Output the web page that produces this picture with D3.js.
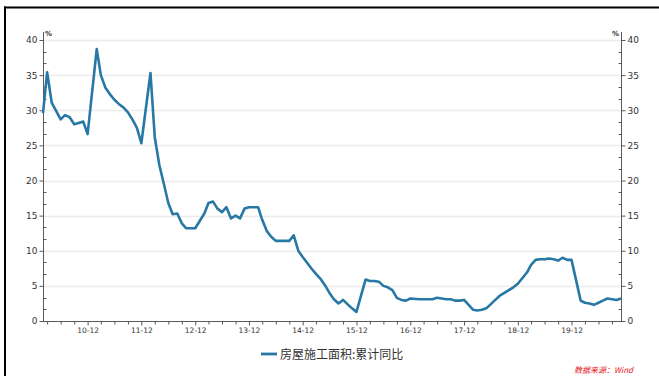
<!DOCTYPE html>
<html>
<head>
<meta charset="utf-8">
<script src="https://cdn.jsdelivr.net/npm/d3@7"></script>
<style>
  html, body { margin: 0; padding: 0; background: #fff; }
  svg { display: block; }
</style>
</head>
<body>
<svg id="chart" width="659" height="376"></svg>
<script>
// 房屋施工面积:累计同比 (%), monthly, Jan figures are reported together with Feb
const months = [
  "2010-02","2010-03","2010-04","2010-05","2010-06","2010-07","2010-08","2010-09","2010-10","2010-11","2010-12",
  "2011-02","2011-03","2011-04","2011-05","2011-06","2011-07","2011-08","2011-09","2011-10","2011-11","2011-12",
  "2012-02","2012-03","2012-04","2012-05","2012-06","2012-07","2012-08","2012-09","2012-10","2012-11","2012-12",
  "2013-02","2013-03","2013-04","2013-05","2013-06","2013-07","2013-08","2013-09","2013-10","2013-11","2013-12",
  "2014-02","2014-03","2014-04","2014-05","2014-06","2014-07","2014-08","2014-09","2014-10","2014-11","2014-12",
  "2015-02","2015-03","2015-04","2015-05","2015-06","2015-07","2015-08","2015-09","2015-10","2015-11","2015-12",
  "2016-02","2016-03","2016-04","2016-05","2016-06","2016-07","2016-08","2016-09","2016-10","2016-11","2016-12",
  "2017-02","2017-03","2017-04","2017-05","2017-06","2017-07","2017-08","2017-09","2017-10","2017-11","2017-12",
  "2018-02","2018-03","2018-04","2018-05","2018-06","2018-07","2018-08","2018-09","2018-10","2018-11","2018-12",
  "2019-02","2019-03","2019-04","2019-05","2019-06","2019-07","2019-08","2019-09","2019-10","2019-11","2019-12",
  "2020-02","2020-03","2020-04","2020-05","2020-06","2020-07","2020-08","2020-09","2020-10","2020-11"
];
const growth = [
  29.6, 35.4, 31.1, 29.9, 28.7, 29.3, 29.0, 28.0, 28.2, 28.4, 26.6,
  38.7, 35.0, 33.2, 32.3, 31.5, 30.9, 30.4, 29.7, 28.7, 27.5, 25.3,
  35.3, 26.2, 22.2, 19.6, 16.8, 15.2, 15.3, 13.9, 13.2, 13.2, 13.2,
  15.3, 16.8, 17.0, 16.0, 15.5, 16.2, 14.6, 15.0, 14.6, 16.0, 16.2,
  16.2, 14.4, 12.8, 12.0, 11.4, 11.4, 11.4, 11.4, 12.2, 10.0, 9.1,
  7.4, 6.7, 6.0, 5.1, 4.0, 3.1, 2.5, 3.0, 2.4, 1.8, 1.3,
  5.9, 5.7, 5.7, 5.6, 5.0, 4.8, 4.4, 3.3, 3.0, 2.9, 3.2,
  3.1, 3.1, 3.1, 3.1, 3.3, 3.2, 3.1, 3.1, 2.9, 2.9, 3.0,
  1.6, 1.5, 1.6, 1.8, 2.4, 3.0, 3.6, 4.0, 4.4, 4.8, 5.3,
  6.9, 8.0, 8.7, 8.8, 8.8, 8.9, 8.8, 8.6, 9.0, 8.7, 8.7,
  2.9, 2.6, 2.5, 2.3, 2.6, 2.9, 3.2, 3.1, 3.0, 3.2
];
const yTicks = [0, 5, 10, 15, 20, 25, 30, 35, 40];
const xTickLabels = ["10-12","11-12","12-12","13-12","14-12","15-12","16-12","17-12","18-12","19-12"];
const seriesName = "房屋施工面积:累计同比";
const sourceNote = "数据来源：Wind";
const unitLabel = "%";

const parseMonth = d3.timeParse("%Y-%m");
const data = months.map((m, i) => ({ date: parseMonth(m), value: growth[i] }));

const svg = d3.select("#chart");
const plot = { left: 43, right: 621, top: 40, bottom: 321 };
const lineColor = "#2878a6";
const axisColor = "#5a5a5a";
const numFont = "'DejaVu Sans', sans-serif";

const x = d3.scaleTime()
  .domain(d3.extent(data, d => d.date))
  .range([plot.left, plot.right]);
const y = d3.scaleLinear()
  .domain([0, 40])
  .range([plot.bottom, plot.top]);

// frame lines along the top and left edges
svg.append("line").attr("x1", 4).attr("x2", 659).attr("y1", 7.5).attr("y2", 7.5)
  .attr("stroke", "#000").attr("stroke-width", 2);
svg.append("line").attr("x1", 5).attr("x2", 5).attr("y1", 6.5).attr("y2", 376)
  .attr("stroke", "#000").attr("stroke-width", 2);

// horizontal grid
svg.append("g")
  .selectAll("line")
  .data(yTicks.filter(t => t > 0))
  .join("line")
  .attr("x1", plot.left).attr("x2", plot.right)
  .attr("y1", d => Math.round(y(d)) + 0.5).attr("y2", d => Math.round(y(d)) + 0.5)
  .attr("stroke", "#ececec").attr("stroke-width", 1.5);

// minor y ticks (thirds of each 5-point step), drawn inside the plot
const minorY = d3.range(0, 40.01, 5 / 3).filter(v => Math.abs(v / 5 - Math.round(v / 5)) > 1e-6);

function styleAxis(g) {
  g.select(".domain").attr("stroke", axisColor);
  g.selectAll(".tick line").attr("stroke", axisColor);
  g.selectAll(".tick text").attr("fill", "#333").attr("font-family", numFont);
}

const yLeft = svg.append("g")
  .attr("transform", `translate(${plot.left + 0.5},0)`)
  .call(d3.axisLeft(y).tickValues(yTicks).tickSize(4).tickSizeOuter(0).tickPadding(2))
  .call(styleAxis);
yLeft.selectAll(".tick text").attr("font-size", 9);
yLeft.select(".domain").attr("d", `M0,${plot.top - 8}V${plot.bottom + 0.5}`);
yLeft.append("g").selectAll("line").data(minorY).join("line")
  .attr("x1", 0).attr("x2", 3)
  .attr("y1", d => Math.round(y(d)) + 0.5).attr("y2", d => Math.round(y(d)) + 0.5)
  .attr("stroke", axisColor);

const yRight = svg.append("g")
  .attr("transform", `translate(${plot.right + 0.5},0)`)
  .call(d3.axisRight(y).tickValues(yTicks).tickSize(4).tickSizeOuter(0).tickPadding(2))
  .call(styleAxis);
yRight.selectAll(".tick text").attr("font-size", 9);
yRight.select(".domain").attr("d", `M0,${plot.top - 8}V${plot.bottom + 0.5}`);
yRight.append("g").selectAll("line").data(minorY).join("line")
  .attr("x1", -3).attr("x2", 0)
  .attr("y1", d => Math.round(y(d)) + 0.5).attr("y2", d => Math.round(y(d)) + 0.5)
  .attr("stroke", axisColor);

// unit marks above both axes
svg.append("text").attr("x", plot.left + 2).attr("y", plot.top - 4)
  .attr("font-family", numFont).attr("font-size", 7).attr("font-weight", "bold")
  .attr("fill", "#333").text(unitLabel);
svg.append("text").attr("x", plot.right - 2).attr("y", plot.top - 4)
  .attr("text-anchor", "end")
  .attr("font-family", numFont).attr("font-size", 7).attr("font-weight", "bold")
  .attr("fill", "#333").text(unitLabel);

// x axis: quarter-end ticks, labels at each December
const [d0, d1] = x.domain();
const quarterTicks = d3.timeMonths(d0, d3.timeMonth.offset(d1, 1)).filter(d => d.getMonth() % 3 === 2);
const decTicks = quarterTicks.filter(d => d.getMonth() === 11);
const labelFor = new Map(decTicks.map((d, i) => [+d, xTickLabels[i]]));

const xAxis = svg.append("g")
  .attr("transform", `translate(0,${plot.bottom + 0.5})`)
  .call(d3.axisBottom(x).tickValues(quarterTicks).tickSize(3).tickSizeOuter(0).tickPadding(3)
    .tickFormat(d => labelFor.get(+d) || ""))
  .call(styleAxis);
xAxis.select(".domain").attr("d", `M${plot.left},0H${plot.right + 1}`);
xAxis.selectAll(".tick text").attr("font-size", 7.5);
xAxis.selectAll(".tick line").attr("y2", d => labelFor.has(+d) ? 4 : 3);

// series line
const line = d3.line()
  .x(d => x(d.date))
  .y(d => y(d.value));
svg.append("path")
  .datum(data)
  .attr("fill", "none")
  .attr("stroke", lineColor)
  .attr("stroke-width", 2.6)
  .attr("stroke-linejoin", "round")
  .attr("d", line);

// legend
const legend = svg.append("g").attr("transform", "translate(261,354)");
legend.append("line").attr("x1", 0).attr("x2", 16).attr("y1", 0).attr("y2", 0)
  .attr("stroke", lineColor).attr("stroke-width", 2.8);
legend.append("text").attr("x", 19).attr("y", 4.5)
  .attr("font-family", "'Noto Sans CJK SC', sans-serif").attr("font-size", 12)
  .attr("fill", "#333").text(seriesName);

// source note
svg.append("text").attr("x", 633).attr("y", 373)
  .attr("text-anchor", "end")
  .attr("font-family", "'Noto Sans CJK SC', sans-serif").attr("font-size", 8)
  .attr("font-style", "italic")
  .attr("fill", "#e8141c").text(sourceNote);
</script>
</body>
</html>
